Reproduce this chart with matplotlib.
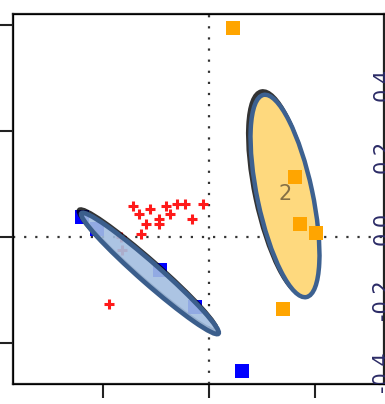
import matplotlib
matplotlib.use('Agg')
import matplotlib.pyplot as plt
from matplotlib.patches import Ellipse
import numpy as np

## data (in plot units, axis ticks every 1)
red_x = [-0.717, -0.557, -0.660, -0.406, -0.368, -0.302, -0.226, -0.057,
         -0.472, -0.472, -0.594, -0.160, -0.642, -0.943, -0.821, -0.830]
red_y = [0.292, 0.264, 0.217, 0.292, 0.217, 0.311, 0.311, 0.311,
         0.170, 0.123, 0.123, 0.170, 0.028, -0.632, -0.123, 0.000]
blue_x = [-1.198, -1.057, -0.462, -0.132, 0.311]
blue_y = [0.189, 0.075, -0.311, -0.660, -1.264]
orange_x = [0.226, 0.811, 0.858, 1.009, 0.698]
orange_y = [1.972, 0.566, 0.123, 0.038, -0.679]

# ellipses: centre, length, width, angle
ell_centres = [(-0.557, -0.344), (0.717, 0.387)]
ell_sizes = [(1.72, 0.19), (1.95, 0.52)]
ell_angles = [-41.3, 102.0]
ell_label = '2'

left_ticks = [-1, 0, 1, 2]
bottom_ticks = [-1, 0, 1]
right_vals = [0.4, 0.2, 0.0, -0.2, -0.4]
right_labels = ['0.4', '0.2', '0.0', '-0.2', '-0.4']

fig = plt.figure(figsize=(3.85, 4.04), dpi=100)
ax = fig.add_axes([13 / 385, 20 / 404, 371 / 385, 370 / 404])
ax.set_xlim(-1.849, 1.651)
ax.set_ylim(-1.387, 2.104)

## reference lines
ax.axhline(0, color='#333333', linestyle=(0, (1, 4)), linewidth=1.6, zorder=1)
ax.axvline(0, color='#333333', linestyle=(0, (1, 4)), linewidth=1.6, zorder=1)

## yellow ellipse (behind the points)
sh = (-0.02, 0.03)
c, s, a = ell_centres[1], ell_sizes[1], ell_angles[1]
ax.add_patch(Ellipse((c[0] + sh[0], c[1] + sh[1]), s[0], s[1], angle=a,
                     facecolor='none', edgecolor='black', linewidth=3.5, alpha=0.8, zorder=2))
ax.add_patch(Ellipse(c, s[0], s[1], angle=a, facecolor='#FED97E',
                     edgecolor='#3D6190', linewidth=3.2, zorder=2))
ax.text(c[0] + 0.0, c[1] + 0.02, ell_label, fontsize=15, color='#857045',
        ha='center', va='center', zorder=3)

## points
ax.plot(red_x, red_y, '+', color='#FF1A1A', markersize=6.5, markeredgewidth=2.2, zorder=3)
ax.plot(blue_x, blue_y, 's', color='#0000FF', markersize=10.5, markeredgewidth=0, zorder=3)
ax.plot(orange_x, orange_y, 's', color='#FFA500', markersize=10.5, markeredgewidth=0, zorder=3)

## blue ellipse (in front of points)
c, s, a = ell_centres[0], ell_sizes[0], ell_angles[0]
ax.add_patch(Ellipse((c[0] + sh[0], c[1] + sh[1]), s[0], s[1], angle=a,
                     facecolor='none', edgecolor='black', linewidth=3.5, alpha=0.8, zorder=4))
ax.add_patch(Ellipse(c, s[0], s[1], angle=a, facecolor='#A3BEE0', alpha=0.9,
                     edgecolor='none', zorder=4))
ax.add_patch(Ellipse(c, s[0], s[1], angle=a, facecolor='none',
                     edgecolor='#3B5E8C', linewidth=3.4, zorder=4))

## axes
ax.set_xticks(bottom_ticks)
ax.set_yticks(left_ticks)
ax.set_xticklabels([])
ax.set_yticklabels([])
ax.tick_params(length=10, width=1.5, color='#222222', direction='out')
for sp in ax.spines.values():
    sp.set_linewidth(1.6)
    sp.set_color('#222222')

## right scale (labels sit over the frame, cut at the image edge)
ax2 = ax.twinx()
ax2.set_ylim(-0.4333, 0.5945)
ax2.set_yticks(right_vals)
ax2.set_yticklabels(right_labels, rotation=90, va='center', color='#2B2B66', fontsize=15)
ax2.tick_params(axis='y', length=0, pad=-8.5)
ax2.spines['right'].set_visible(False)

fig.savefig('out.png', dpi=100)
